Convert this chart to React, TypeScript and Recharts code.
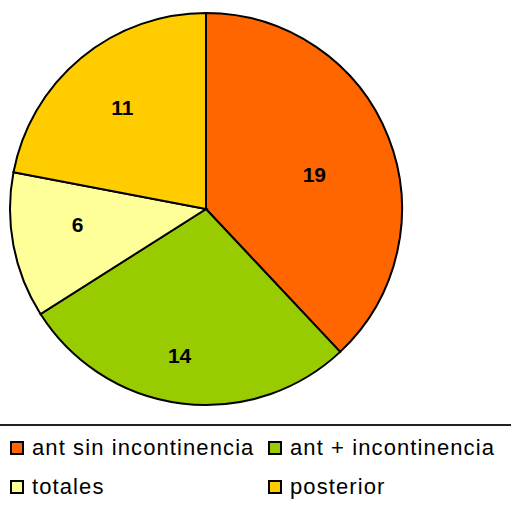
import React from 'react';
import { PieChart, Pie, Cell, Legend } from 'recharts';

const categories = ['ant sin incontinencia', 'ant + incontinencia', 'totales', 'posterior'];
const values = [19, 14, 6, 11];
const colors = ['#FF6600', '#99CC00', '#FFFF99', '#FFCC00'];
const labelRadiusFactors = [0.58, 0.76, 0.66, 0.67];
const labelAngleShift = [-4, -3, -4, 0];

const data = categories.map((name, i) => ({ name, value: values[i] }));

const RAD = Math.PI / 180;

const renderLabel = (props: any) => {
  const { cx, cy, midAngle, outerRadius, index, value } = props;
  const r = outerRadius * labelRadiusFactors[index];
  const a = midAngle + labelAngleShift[index];
  const x = cx + r * Math.cos(-a * RAD);
  const y = cy + r * Math.sin(-a * RAD);
  return (
    <text
      x={x}
      y={y}
      textAnchor="middle"
      dominantBaseline="central"
      fill="#000"
      fontSize={21}
      fontWeight="bold"
      fontFamily="'Liberation Sans', Arial, sans-serif"
    >
      {value}
    </text>
  );
};

const LegendContent = () => (
  <div
    style={{
      width: 511,
      borderTop: '2px solid #222',
      fontFamily: "'Liberation Sans', Arial, sans-serif",
      fontSize: 22,
      letterSpacing: 1.1,
      color: '#000',
      display: 'grid',
      gridTemplateColumns: '258px 253px',
      gridAutoRows: '39px',
      paddingTop: 2,
      boxSizing: 'border-box',
    }}
  >
    {categories.map((name, i) => (
      <div key={name} style={{ display: 'flex', alignItems: 'center', paddingLeft: 10 }}>
        <span
          style={{
            display: 'inline-block',
            width: 10,
            height: 10,
            background: colors[i],
            border: '2px solid #000',
            marginRight: 8,
            flexShrink: 0,
          }}
        />
        <span style={{ whiteSpace: 'nowrap', lineHeight: '39px' }}>{name}</span>
      </div>
    ))}
  </div>
);

export default function App() {
  return (
    <div style={{ position: 'absolute', left: 0, top: 0, width: 511, height: 505, background: '#fff' }}>
      <PieChart width={511} height={505} margin={{ top: 0, right: 0, bottom: 0, left: 0 }}>
        <Pie
          data={data}
          dataKey="value"
          nameKey="name"
          cx={206}
          cy={209}
          outerRadius={196}
          startAngle={90}
          endAngle={-270}
          stroke="#000"
          strokeWidth={2}
          label={renderLabel}
          labelLine={false}
          isAnimationActive={false}
        >
          {data.map((d, i) => (
            <Cell key={d.name} fill={colors[i]} />
          ))}
        </Pie>
        <Legend
          content={<LegendContent />}
          wrapperStyle={{ position: 'absolute', top: 424, left: 0, width: 511 }}
        />
      </PieChart>
    </div>
  );
}
